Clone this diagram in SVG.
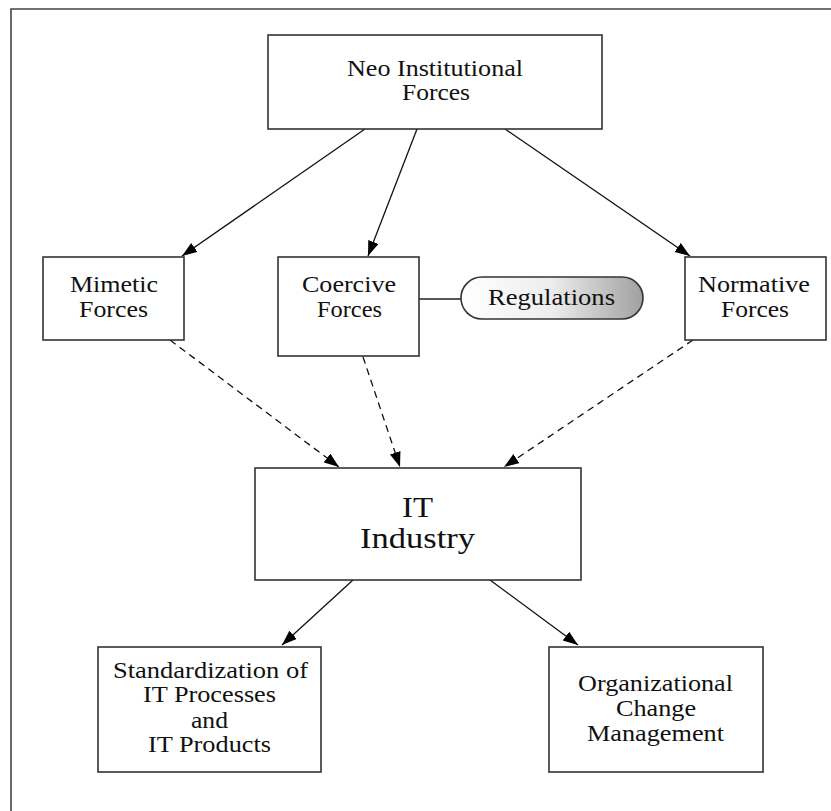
<svg xmlns="http://www.w3.org/2000/svg" width="831" height="811" viewBox="0 0 831 811">
<style>
  .box{fill:#fff;stroke:#333;stroke-width:1.6}
  .t{font-family:"Liberation Serif","Times New Roman",serif;font-size:24px;fill:#111;text-anchor:middle}
  .big{font-size:29px}
  .c{stroke:#111;stroke-width:1.3;fill:none;marker-end:url(#ah)}
  .d{stroke-dasharray:7 5}
</style>
<defs>
  <marker id="ah" markerUnits="userSpaceOnUse" markerWidth="16" markerHeight="12" refX="15" refY="5.5" orient="auto">
    <path d="M0,0 L15,5.5 L0,11 z" fill="#000"/>
  </marker>
  <linearGradient id="rg" x1="0" y1="0" x2="1" y2="0">
    <stop offset="0" stop-color="#fff"/>
    <stop offset="0.5" stop-color="#ededed"/>
    <stop offset="1" stop-color="#a0a0a0"/>
  </linearGradient>
</defs>
<rect width="831" height="811" fill="#fff"/>
<path d="M11,811 V9 H831" fill="none" stroke="#444" stroke-width="1.6"/>

<g id="connectors">
  <line class="c" x1="365" y1="129" x2="182" y2="256"/>
  <line class="c" x1="417" y1="129" x2="368" y2="256"/>
  <line class="c" x1="505" y1="129" x2="690" y2="256"/>
  <line x1="419" y1="299" x2="461" y2="299" stroke="#222" stroke-width="1.3"/>
  <line class="c d" x1="170" y1="340" x2="339" y2="467"/>
  <line class="c d" x1="363" y1="357" x2="400" y2="467"/>
  <line class="c d" x1="693" y1="340" x2="504" y2="467"/>
  <line class="c" x1="353" y1="580" x2="282" y2="645"/>
  <line class="c" x1="490" y1="580" x2="578" y2="645"/>
</g>

<g id="neo">
  <rect class="box" x="268" y="35" width="334" height="94"/>
  <text class="t" x="435" y="76" textLength="176" lengthAdjust="spacingAndGlyphs">Neo Institutional</text>
  <text class="t" x="436" y="100" textLength="68" lengthAdjust="spacingAndGlyphs">Forces</text>
</g>

<g id="mimetic">
  <rect class="box" x="43" y="257" width="141" height="83"/>
  <text class="t" x="114" y="292" textLength="88" lengthAdjust="spacingAndGlyphs">Mimetic</text>
  <text class="t" x="113.5" y="317" textLength="69" lengthAdjust="spacingAndGlyphs">Forces</text>
</g>

<g id="coercive">
  <rect class="box" x="278" y="257" width="141" height="99"/>
  <text class="t" x="349" y="292" textLength="94" lengthAdjust="spacingAndGlyphs">Coercive</text>
  <text class="t" x="349.5" y="317" textLength="65" lengthAdjust="spacingAndGlyphs">Forces</text>
</g>

<g id="regulations">
  <rect x="461" y="277" width="182" height="42" rx="21" ry="21" fill="url(#rg)" stroke="#333" stroke-width="1.6"/>
  <text class="t" x="551.5" y="305" textLength="127" lengthAdjust="spacingAndGlyphs">Regulations</text>
</g>

<g id="normative">
  <rect class="box" x="685" y="257" width="141" height="83"/>
  <text class="t" x="754" y="292" textLength="112" lengthAdjust="spacingAndGlyphs">Normative</text>
  <text class="t" x="755" y="317" textLength="68" lengthAdjust="spacingAndGlyphs">Forces</text>
</g>

<g id="it-industry">
  <rect class="box" x="255" y="468" width="326" height="112"/>
  <text class="t big" x="417.5" y="517" textLength="31" lengthAdjust="spacingAndGlyphs">IT</text>
  <text class="t big" x="417.5" y="548" textLength="115" lengthAdjust="spacingAndGlyphs">Industry</text>
</g>

<g id="standardization">
  <rect class="box" x="98" y="647" width="223" height="125"/>
  <text class="t" x="210.5" y="678" textLength="195" lengthAdjust="spacingAndGlyphs">Standardization of</text>
  <text class="t" x="209.5" y="702" textLength="133" lengthAdjust="spacingAndGlyphs">IT Processes</text>
  <text class="t" x="209.5" y="728" textLength="37" lengthAdjust="spacingAndGlyphs">and</text>
  <text class="t" x="209.5" y="752" textLength="123" lengthAdjust="spacingAndGlyphs">IT Products</text>
</g>

<g id="organizational">
  <rect class="box" x="549" y="647" width="214" height="125"/>
  <text class="t" x="655.5" y="691" textLength="155" lengthAdjust="spacingAndGlyphs">Organizational</text>
  <text class="t" x="656" y="716" textLength="80" lengthAdjust="spacingAndGlyphs">Change</text>
  <text class="t" x="655.5" y="741" textLength="137" lengthAdjust="spacingAndGlyphs">Management</text>
</g>
</svg>
